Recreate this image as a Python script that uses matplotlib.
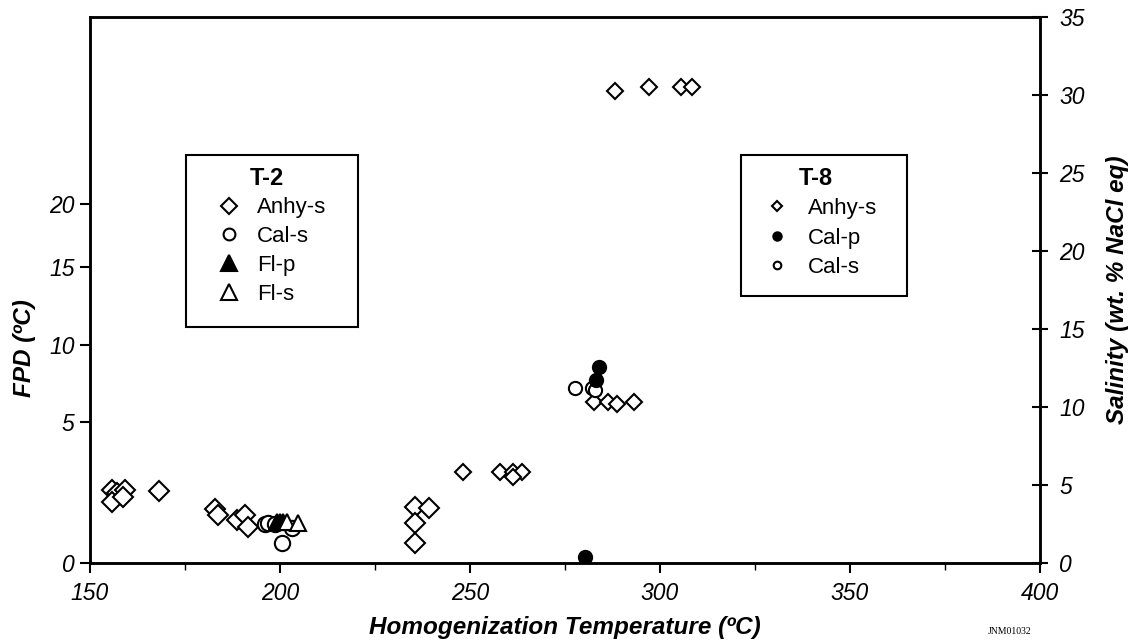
import matplotlib.pyplot as plt
from matplotlib.lines import Line2D
from matplotlib.patches import Rectangle

plt.rcParams['font.family'] = ['Liberation Sans', 'DejaVu Sans']

# T-2 data: homogenization temperature (C) vs salinity (wt. % NaCl eq)
t2_anhy_x = [155.7, 157.0, 159.2, 155.7, 158.7, 168.2, 182.9, 183.8, 188.6, 190.8, 191.7,
             235.5, 239.3, 235.5, 235.5]
t2_anhy_y = [4.68, 4.49, 4.68, 3.93, 4.23, 4.63, 3.46, 3.08, 2.76, 3.08, 2.33,
             3.61, 3.55, 2.54, 1.26]
t2_cal_x = [196.1, 196.9, 198.7, 200.4, 203.1]
t2_cal_y = [2.50, 2.54, 2.50, 1.28, 2.24]
t2_flp_x = [199.2, 200.0, 200.8]
t2_flp_y = [2.62, 2.65, 2.62]
t2_fls_x = [201.8, 204.8]
t2_fls_y = [2.62, 2.55]

# T-8 data
t8_anhy_x = [248.2, 257.9, 261.4, 263.6, 261.4, 282.5, 286.4, 288.6, 293.2,
             288.2, 297.2, 305.4, 308.5]
t8_anhy_y = [5.81, 5.81, 5.81, 5.81, 5.53, 10.34, 10.34, 10.17, 10.34,
             30.28, 30.53, 30.53, 30.53]
t8_calp_x = [284.0, 283.2, 280.3]
t8_calp_y = [12.55, 11.73, 0.38]
t8_cals_x = [277.6, 282.0, 282.9]
t8_cals_y = [11.20, 11.20, 11.09]

# left axis: freezing point depression labels at their salinity positions
fpd_labels = ['0', '5', '10', '15', '20']
fpd_pos = [0, 9.05, 14.0, 19.0, 23.0]
sal_ticks = [0, 5, 10, 15, 20, 25, 30, 35]

fig = plt.figure(figsize=(11.33, 6.41), dpi=100)
ax = fig.add_axes([90 / 1133, 1 - 563 / 641, 950 / 1133, 546 / 641])

ew = 1.5
ax.plot(t2_anhy_x, t2_anhy_y, 'D', ms=10, mfc='white', mec='black', mew=ew, ls='none')
ax.plot(t2_cal_x, t2_cal_y, 'o', ms=11, mfc='white', mec='black', mew=ew, ls='none')
ax.plot(t2_flp_x, t2_flp_y, '^', ms=12, mfc='black', mec='black', mew=ew, ls='none')
ax.plot(t2_fls_x, t2_fls_y, '^', ms=12, mfc='white', mec='black', mew=ew, ls='none')
ax.plot(t8_anhy_x, t8_anhy_y, 'D', ms=7.8, mfc='white', mec='black', mew=ew, ls='none')
ax.plot(t8_cals_x, t8_cals_y, 'o', ms=9.5, mfc='white', mec='black', mew=ew, ls='none')
ax.plot(t8_calp_x, t8_calp_y, 'o', ms=9.5, mfc='black', mec='black', mew=ew, ls='none')

ax.set_xlim(150, 400)
ax.set_ylim(0, 35)
ax.set_xticks([150, 200, 250, 300, 350, 400])
ax.set_xticks([175, 225, 275, 325, 375], minor=True)
ax.set_yticks(fpd_pos, fpd_labels)
for lab in ax.get_xticklabels() + ax.get_yticklabels():
    lab.set_fontstyle('italic')
ax.tick_params(axis='both', which='major', labelsize=16.5, length=7, width=1.5, direction='out')
ax.tick_params(axis='x', which='major', pad=7)
ax.tick_params(axis='y', which='major', pad=4)
ax.tick_params(axis='x', which='minor', length=5, width=1, direction='out')
for s in ax.spines.values():
    s.set_linewidth(1.8)

ax2 = ax.twinx()
ax2.set_ylim(0, 35)
ax2.set_yticks(sal_ticks)
for lab in ax2.get_yticklabels():
    lab.set_fontstyle('italic')
ax2.tick_params(axis='y', labelsize=16.5, length=12, width=1.5, direction='inout', pad=8)
for s in ax2.spines.values():
    s.set_linewidth(1.8)

lab_font = dict(fontsize=17.5, fontweight='bold', fontstyle='italic')
ax.set_xlabel('Homogenization Temperature (ºC)', **lab_font)
ax.set_ylabel('FPD (ºC)', **lab_font)
ax2.set_ylabel('Salinity (wt. % NaCl eq)', **lab_font)
ax.xaxis.set_label_coords(0.5, -0.097)
ax.yaxis.set_label_coords(-0.057, 0.394)
ax2.yaxis.set_label_coords(1.0695, 0.5)

fig.text(1010 / 1133, 1 - 632 / 641, 'JNM01032', fontsize=7, family='Liberation Serif',
         ha='center', va='center')

# legend boxes
ax2.add_patch(Rectangle((0.1011, 0.4322), 0.1811, 0.315, transform=ax2.transAxes,
                        fill=True, facecolor='white', edgecolor='black', lw=1.5, zorder=4))
ax2.add_patch(Rectangle((0.6853, 0.489), 0.1747, 0.2582, transform=ax2.transAxes,
                        fill=True, facecolor='white', edgecolor='black', lw=1.5, zorder=4))


def mk(marker, fill, ms):
    return Line2D([], [], marker=marker, ls='none', ms=ms, mfc=fill, mec='black', mew=1.5)


h2 = [mk('D', 'white', 8), mk('o', 'white', 8.5), mk('^', 'black', 11), mk('^', 'white', 11)]
leg2 = ax2.legend(h2, ['Anhy-s', 'Cal-s', 'Fl-p', 'Fl-s'], title='T-2',
                  loc='upper left', bbox_to_anchor=(0.1115, 0.7462), fontsize=16,
                  title_fontproperties={'weight': 'bold', 'size': 17},
                  frameon=False, borderpad=0.5, labelspacing=0.35, handlelength=2.0,
                  handletextpad=0.25, borderaxespad=0)
leg2.set_zorder(5)
ax2.add_artist(leg2)

h8 = [mk('D', 'white', 5.5), mk('o', 'black', 6), mk('o', 'white', 5.5)]
leg8 = ax2.legend(h8, ['Anhy-s', 'Cal-p', 'Cal-s'], title='T-8',
                  loc='upper left', bbox_to_anchor=(0.6926, 0.738), fontsize=16,
                  title_fontproperties={'weight': 'bold', 'size': 17},
                  frameon=False, borderpad=0.3, labelspacing=0.38, handlelength=2.0,
                  handletextpad=0.4, borderaxespad=0)
leg8.set_zorder(5)

fig.savefig('out.png', dpi=100)
